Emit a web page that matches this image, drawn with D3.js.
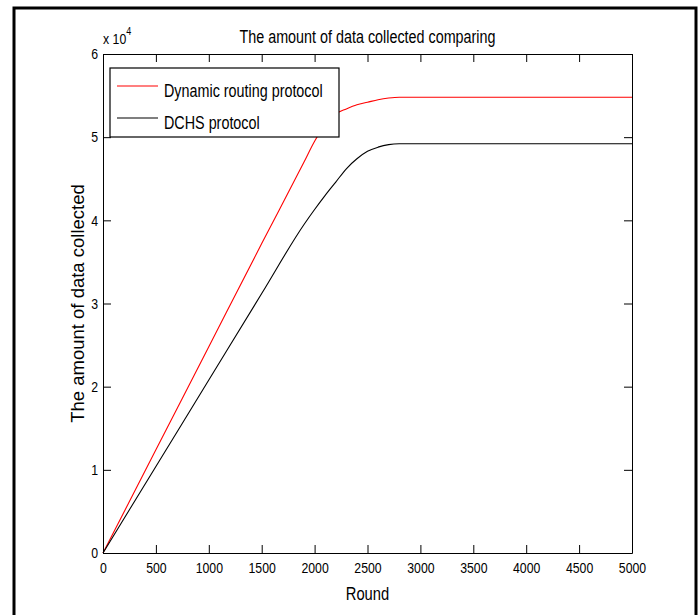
<!DOCTYPE html>
<html>
<head>
<meta charset="utf-8">
<script src="https://cdn.jsdelivr.net/npm/d3@7"></script>
<style>
    body { margin: 0; background: #fff; }
    text { fill: #000; font-family: "Liberation Sans", Arial, sans-serif; }
</style>
</head>
<body>
<div id="chart"></div>
<script>
const width = 699
const height = 615
const margin = {
    top: 54,
    bottom: 62,
    right: 67,
    left: 103,
}
const innerW = width - margin.left - margin.right
const innerH = height - margin.top - margin.bottom
const squeeze = 0.82 // the original uses a narrow face

// data, amounts in units of 10^4
const rounds = [0, 500, 1000, 1500, 1900, 2000, 2100, 2200, 2300, 2400, 2500, 2600, 2700, 2800, 2900, 5000]
const dynamicRouting = [0, 1.24, 2.48, 3.72, 4.70, 4.95, 5.15, 5.28, 5.34, 5.39, 5.42, 5.45, 5.47, 5.48, 5.48, 5.48]
const dchs = [0, 1.04, 2.08, 3.12, 3.95, 4.13, 4.30, 4.46, 4.62, 4.74, 4.83, 4.88, 4.91, 4.92, 4.92, 4.92]
const xTicks = [0, 500, 1000, 1500, 2000, 2500, 3000, 3500, 4000, 4500, 5000]
const yTicks = [0, 1, 2, 3, 4, 5, 6]
const seriesNames = ["Dynamic routing protocol", "DCHS protocol"]
const seriesColors = ["#ff0000", "#000000"]

// squeeze text horizontally around its own x
function narrow(sel) {
    sel.each(function() {
        const t = d3.select(this)
        const x0 = +t.attr("x") || 0
        t.attr("x", x0 / squeeze).attr("transform", `scale(${squeeze}, 1)`)
    })
}

const svg = d3.select("div#chart").append("svg").attr("width", width).attr("height", height)

// outer frame
svg.append("rect")
    .attr("x", 14).attr("y", 8)
    .attr("width", 682).attr("height", 620)
    .attr("fill", "none").attr("stroke", "#000").attr("stroke-width", 3)

const elementGroup = svg.append("g").attr("class", "elementGroup")
    .attr("transform", `translate(${margin.left}, ${margin.top})`)

const x = d3.scaleLinear().domain([0, 5000]).range([0, innerW])
const y = d3.scaleLinear().domain([0, 6]).range([innerH, 0])

const styleAxis = g => {
    g.selectAll("path, line").attr("stroke", "#000").attr("stroke-width", 1)
    g.selectAll("text").attr("font-size", 15).attr("fill", "#000").attr("font-family", null).call(narrow)
}

const lines = elementGroup.append("g")

elementGroup.append("g")
    .attr("transform", `translate(0, ${innerH})`)
    .call(d3.axisBottom(x).tickValues(xTicks).tickFormat(d3.format("d")).tickSizeInner(-8).tickSizeOuter(0).tickPadding(9))
    .call(styleAxis)
elementGroup.append("g")
    .call(d3.axisLeft(y).tickValues(yTicks).tickFormat(d3.format("d")).tickSizeInner(-8).tickSizeOuter(0).tickPadding(5))
    .call(styleAxis)
elementGroup.append("g")
    .call(d3.axisTop(x).tickValues(xTicks).tickSizeInner(-8).tickSizeOuter(0).tickFormat(""))
    .call(styleAxis)
elementGroup.append("g")
    .attr("transform", `translate(${innerW}, 0)`)
    .call(d3.axisRight(y).tickValues(yTicks).tickSizeInner(-8).tickSizeOuter(0).tickFormat(""))
    .call(styleAxis)
elementGroup.selectAll(".domain").attr("fill", "none")

const line = d3.line()
    .x((d, i) => x(rounds[i]))
    .y(d => y(d))
    .curve(d3.curveMonotoneX)

;[dynamicRouting, dchs].forEach((values, k) => {
    lines.append("path")
        .datum(values)
        .attr("d", line)
        .attr("fill", "none")
        .attr("stroke", seriesColors[k])
        .attr("stroke-width", 1.1)
})

// legend
const legend = elementGroup.append("g").attr("transform", "translate(7, 14)")
legend.append("rect")
    .attr("width", 229).attr("height", 69)
    .attr("fill", "#ffffff").attr("stroke", "#000").attr("stroke-width", 1.2)
seriesNames.forEach((name, k) => {
    const ly = 18 + k * 32
    legend.append("line")
        .attr("x1", 7).attr("x2", 48).attr("y1", ly).attr("y2", ly)
        .attr("stroke", seriesColors[k]).attr("stroke-width", 1.1)
    legend.append("text")
        .attr("x", 54).attr("y", ly + 11.5)
        .attr("font-size", 17.5)
        .text(name)
        .call(narrow)
})

// title, labels, exponent
svg.append("text")
    .attr("x", margin.left + innerW / 2).attr("y", 43)
    .attr("text-anchor", "middle").attr("font-size", 17.5)
    .text("The amount of data collected comparing")
    .call(narrow)

svg.append("text")
    .attr("x", margin.left + innerW / 2).attr("y", 600)
    .attr("text-anchor", "middle").attr("font-size", 18)
    .text("Round")
    .call(narrow)

svg.append("text")
    .attr("transform", `translate(84, ${margin.top + innerH / 2}) rotate(-90)`)
    .attr("text-anchor", "middle").attr("font-size", 18.5)
    .text("The amount of data collected")

const expo = svg.append("text")
    .attr("x", margin.left).attr("y", 44)
    .attr("font-size", 15)
expo.append("tspan").text("x 10")
expo.append("tspan").attr("dy", -9).attr("font-size", 11).text("4")
expo.call(narrow)
</script>
</body>
</html>
